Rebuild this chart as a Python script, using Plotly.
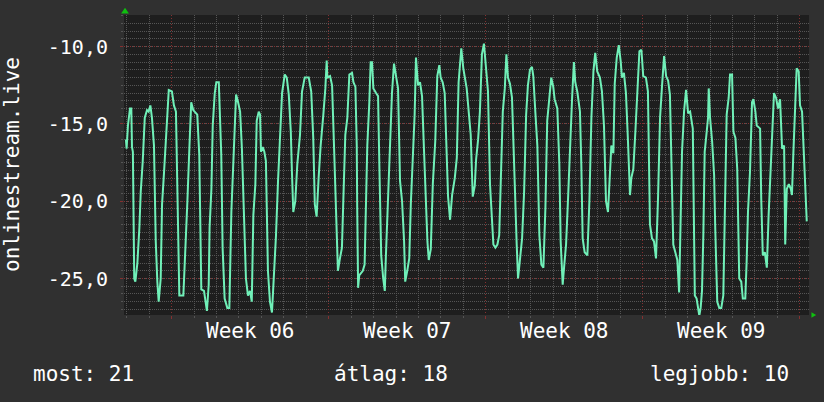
import plotly.graph_objects as go

# time offset in days from the start of Week 06, and the plotted (negated) rank
days = [-2.04, -2.01, -1.95, -1.86, -1.80, -1.77, -1.73, -1.67, -1.62, -1.53,
        -1.44, -1.38, -1.29, -1.20, -1.10, -1.03, -0.95, -0.88, -0.79, -0.71,
        -0.64, -0.58, -0.49, -0.43, -0.34, -0.22, -0.13, 0.01, 0.10, 0.19,
        0.25, 0.31, 0.34, 0.52, 0.61, 0.70, 0.79, 0.87, 0.96, 1.14,
        1.23, 1.32, 1.44, 1.50, 1.57, 1.65, 1.69, 1.77, 1.83, 1.92,
        1.99, 2.10, 2.15, 2.21, 2.27, 2.36, 2.48, 2.57, 2.66, 2.76,
        2.84, 2.87, 2.96, 3.05, 3.13, 3.22, 3.31, 3.40, 3.49, 3.57,
        3.64, 3.73, 3.79, 3.88, 3.94, 3.98, 4.06, 4.13, 4.20, 4.29,
        4.38, 4.47, 4.56, 4.65, 4.74, 4.83, 4.92, 5.04, 5.13, 5.22,
        5.31, 5.36, 5.42, 5.51, 5.60, 5.72, 5.81, 5.93, 6.11, 6.22,
        6.31, 6.38, 6.46, 6.55, 6.64, 6.76, 6.85, 6.91, 6.94, 7.06,
        7.15, 7.24, 7.32, 7.41, 7.50, 7.59, 7.65, 7.74, 7.83, 7.92,
        8.04, 8.10, 8.19, 8.25, 8.27, 8.31, 8.36, 8.52, 8.60, 8.66,
        8.72, 8.81, 8.87, 8.93, 8.99, 9.11, 9.20, 9.26, 9.34, 9.43,
        9.50, 9.55, 9.64, 9.73, 9.82, 9.91, 10.00, 10.09, 10.18, 10.27,
        10.36, 10.41, 10.50, 10.59, 10.66, 10.74, 10.83, 10.89, 10.98, 11.07,
        11.16, 11.25, 11.34, 11.40, 11.46, 11.55, 11.64, 11.75, 11.84, 11.93,
        11.99, 12.08, 12.17, 12.26, 12.32, 12.41, 12.50, 12.62, 12.71, 12.79,
        12.91, 13.00, 13.15, 13.24, 13.33, 13.42, 13.51, 13.57, 13.66, 13.74,
        13.83, 13.92, 14.01, 14.10, 14.19, 14.28, 14.34, 14.43, 14.52, 14.60,
        14.67, 14.76, 14.85, 14.92, 14.99, 15.08, 15.17, 15.26, 15.32, 15.38,
        15.44, 15.53, 15.62, 15.71, 15.80, 15.88, 15.97, 16.06, 16.12, 16.21,
        16.30, 16.39, 16.48, 16.57, 16.66, 16.74, 16.83, 16.92, 17.01, 17.07,
        17.19, 17.28, 17.34, 17.43, 17.49, 17.58, 17.67, 17.76, 17.85, 17.93,
        17.99, 18.08, 18.20, 18.26, 18.32, 18.41, 18.53, 18.62, 18.71, 18.80,
        18.88, 18.97, 19.09, 19.18, 19.27, 19.36, 19.45, 19.54, 19.60, 19.69,
        19.75, 19.84, 19.93, 20.02, 20.07, 20.16, 20.25, 20.34, 20.43, 20.49,
        20.58, 20.67, 20.76, 20.85, 20.94, 21.02, 21.14, 21.23, 21.32, 21.41,
        21.50, 21.59, 21.68, 21.77, 21.86, 21.95, 22.04, 22.13, 22.21, 22.27,
        22.36, 22.45, 22.54, 22.62, 22.66, 22.75, 22.84, 22.93, 23.02, 23.11,
        23.23, 23.32, 23.40, 23.46, 23.52, 23.58, 23.64, 23.70, 23.76, 23.85,
        23.91, 23.94, 24.00, 24.09, 24.18, 24.23, 24.32, 24.41, 24.50, 24.59,
        24.65, 24.74, 24.83, 24.89, 24.98, 25.04, 25.13, 25.21, 25.30, 25.39,
        25.46, 25.57, 25.63, 25.69, 25.78, 25.87, 25.93, 26.02, 26.08, 26.23,
        26.28, 26.35, 26.44, 26.53, 26.61, 26.70, 26.76, 26.85, 26.94, 27.03,
        27.12, 27.21, 27.30, 27.35, 27.42, 27.51, 27.60, 27.65, 27.71, 27.80,
        27.86, 27.95, 28.01, 28.10, 28.19, 28.25, 28.31]

rank = [-16.0, -16.6, -15.1, -14.0, -14.0, -16.5, -16.8, -25.0, -25.2, -24.0,
        -21.7, -19.4, -17.4, -14.6, -14.1, -14.2, -13.8, -14.6, -16.4, -22.6,
        -25.2, -26.5, -25.0, -20.2, -18.1, -15.4, -12.8, -12.9, -13.8, -14.2,
        -18.3, -23.5, -26.1, -26.1, -23.5, -20.0, -16.5, -13.6, -14.1, -14.4,
        -17.0, -25.7, -25.8, -26.5, -27.1, -25.4, -21.7, -19.2, -15.1, -13.0,
        -12.3, -12.3, -14.2, -17.0, -23.0, -26.3, -26.9, -26.9, -20.7, -17.0,
        -13.6, -13.1, -13.6, -14.2, -16.6, -20.7, -25.0, -26.1, -25.8, -26.5,
        -20.9, -18.9, -14.8, -14.2, -14.4, -16.8, -16.5, -16.8, -17.4, -24.5,
        -26.5, -27.2, -25.0, -22.2, -18.7, -15.5, -13.0, -11.8, -12.0, -13.1,
        -15.5, -18.1, -20.7, -20.0, -17.6, -15.7, -12.9, -12.0, -12.0, -12.9,
        -15.9, -20.2, -21.0, -18.5, -16.4, -14.4, -12.7, -10.9, -12.0, -11.9,
        -12.5, -16.6, -20.4, -24.5, -23.7, -23.0, -20.0, -15.7, -14.6, -11.8,
        -11.7, -12.3, -12.6, -16.4, -20.4, -25.6, -24.8, -24.5, -24.1, -20.4,
        -16.4, -13.6, -11.0, -11.0, -12.7, -13.0, -13.2, -17.9, -23.5, -25.0,
        -25.8, -23.5, -20.0, -16.4, -13.0, -11.1, -11.8, -12.7, -18.7, -20.0,
        -22.6, -25.2, -24.5, -23.7, -20.2, -17.6, -14.4, -10.7, -12.5, -12.3,
        -13.2, -16.8, -20.9, -22.6, -23.8, -23.1, -18.9, -16.1, -11.9, -11.2,
        -12.0, -12.3, -13.0, -17.0, -19.7, -21.2, -19.6, -18.5, -17.2, -12.3,
        -10.1, -11.4, -12.7, -14.2, -15.7, -19.7, -19.0, -17.3, -16.0, -14.2,
        -10.5, -9.8, -11.5, -12.9, -18.9, -20.9, -22.8, -23.0, -22.8, -22.2,
        -18.1, -14.2, -12.7, -10.5, -12.0, -12.4, -13.3, -17.9, -19.6, -22.8,
        -25.0, -23.5, -22.4, -19.4, -14.4, -12.5, -11.5, -11.3, -11.9, -14.2,
        -16.4, -22.2, -24.1, -24.3, -20.4, -14.8, -13.1, -12.0, -12.6, -13.4,
        -14.0, -17.6, -22.6, -25.4, -24.3, -22.8, -19.8, -16.1, -13.3, -11.0,
        -12.3, -12.9, -14.2, -17.6, -22.4, -23.3, -23.5, -20.0, -14.6, -11.6,
        -10.4, -11.6, -12.0, -12.9, -15.1, -20.0, -20.7, -18.1, -16.4, -16.9,
        -12.4, -10.7, -9.9, -11.0, -12.0, -11.7, -13.0, -16.1, -19.6, -18.5,
        -17.9, -15.5, -13.3, -10.3, -10.2, -11.9, -12.0, -12.9, -21.5, -22.4,
        -22.6, -23.7, -19.8, -14.6, -12.5, -10.6, -11.9, -12.2, -13.1, -17.6,
        -22.8, -23.3, -23.8, -25.9, -23.0, -16.8, -14.2, -12.8, -14.3, -14.2,
        -15.3, -26.1, -26.3, -26.9, -27.4, -26.9, -25.8, -22.2, -16.8, -15.5,
        -14.6, -12.7, -14.6, -16.1, -18.3, -21.7, -26.5, -26.9, -26.9, -26.1,
        -21.5, -14.4, -13.3, -11.8, -11.8, -15.5, -15.9, -17.9, -25.0, -25.2,
        -26.3, -26.3, -23.9, -20.7, -18.1, -13.6, -13.4, -14.2, -15.1, -15.3,
        -19.8, -23.5, -23.3, -24.3, -20.9, -18.3, -15.9, -13.0, -13.3, -14.0,
        -13.4, -16.6, -16.4, -22.8, -19.2, -18.9, -19.2, -19.6, -17.0, -14.2,
        -11.4, -11.6, -13.8, -14.2, -17.4, -18.9, -21.3]

y_tick_values = [-25, -20, -15, -10]
y_tick_labels = ["-25,0", "-20,0", "-15,0", "-10,0"]
week_positions = [3.5, 10.5, 17.5, 24.5]
week_labels = ["Week 06", "Week 07", "Week 08", "Week 09"]
summary_labels = ["most: 21", "átlag: 18", "legjobb: 10"]
y_title = "onlinestream.live"

FONT = dict(family="DejaVu Sans Mono", size=21, color="#ffffff")
MINOR = "#555555"
MAJOR = "#843030"
ARROW = "#10c010"
PAPER = "#303030"

fig = go.Figure(go.Scatter(x=days, y=rank, mode="lines",
                           line=dict(color="#70f0b8", width=2),
                           hoverinfo="skip"))

fig.update_layout(
    width=824, height=402,
    margin=dict(l=124, r=15, t=15, b=87),
    paper_bgcolor=PAPER, plot_bgcolor="#1e1e1e",
    showlegend=False, font=FONT, hovermode=False,
)

fig.update_xaxes(
    range=[-2.126, 28.41], tickmode="linear", tick0=0, dtick=7,
    showticklabels=False, zeroline=False, showline=False,
    showgrid=True, gridcolor=MAJOR, griddash="1px,2px", gridwidth=1,
    ticks="outside", ticklen=3, tickcolor=MAJOR,
    minor=dict(tickmode="linear", tick0=0, dtick=1, showgrid=True,
               gridcolor=MINOR, griddash="1px,1px", gridwidth=1,
               ticks="outside", ticklen=2, tickcolor=MINOR),
)
fig.update_yaxes(
    range=[-27.36, -7.95], tickmode="array",
    tickvals=y_tick_values, ticktext=y_tick_labels,
    tickfont=dict(family="DejaVu Sans Mono", size=20, color="#ffffff"),
    zeroline=False, showline=False,
    showgrid=True, gridcolor=MAJOR, griddash="1px,2px", gridwidth=1,
    ticks="outside", ticklen=3, tickcolor=MAJOR, ticklabelstandoff=8,
    minor=dict(tickmode="linear", tick0=-10, dtick=0.5, showgrid=True,
               gridcolor=MINOR, griddash="1px,1px", gridwidth=1,
               ticks="outside", ticklen=2, tickcolor=MINOR),
)

annotations = []
for pos, lab in zip(week_positions, week_labels):
    annotations.append(dict(x=pos, xref="x", y=-0.052, yref="paper",
                            text=lab, showarrow=False, xanchor="center",
                            yanchor="middle", font=FONT))
annotations.append(dict(x=-0.1635, xref="paper", y=0.5, yref="paper",
                        text=y_title, textangle=-90, showarrow=False,
                        xanchor="center", yanchor="middle", font=FONT))
for lab, xp, anc in zip(summary_labels, [-0.136, 0.390, 0.974],
                        ["left", "center", "right"]):
    annotations.append(dict(x=xp, xref="paper", y=-0.198, yref="paper",
                            text=lab, showarrow=False, xanchor=anc,
                            yanchor="middle", font=FONT))
fig.update_layout(annotations=annotations)

fig.update_layout(shapes=[
    dict(type="path", xref="paper", yref="paper",
         path="M 0.0015,1.024 L -0.0042,1.005 L 0.0072,1.005 Z",
         fillcolor=ARROW, line=dict(width=0)),
    dict(type="path", xref="paper", yref="paper",
         path="M 1.0105,0 L 1.0036,0.0095 L 1.0036,-0.0095 Z",
         fillcolor=ARROW, line=dict(width=0)),
])

fig.write_html(
    "out.html",
    config={"displayModeBar": False},
    post_script="document.body.style.margin='0';"
                "document.body.style.background='" + PAPER + "';",
)
